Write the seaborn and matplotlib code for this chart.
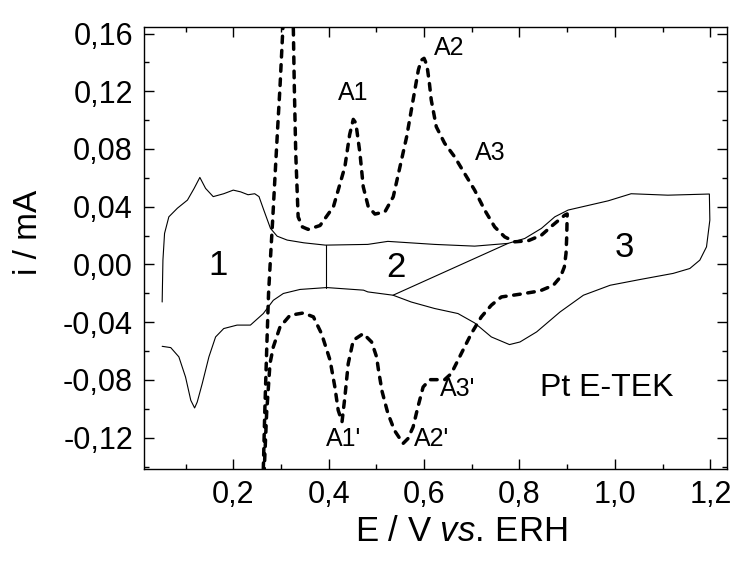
import numpy as np
import pandas as pd
import matplotlib
matplotlib.use("Agg")
import matplotlib.pyplot as plt
import seaborn as sns
from matplotlib.ticker import MultipleLocator, FuncFormatter

# ---------------- data ----------------
# solid CV (Pt E-TEK, blank), anodic then cathodic sweep
solid_v = [0.051, 0.0526, 0.056, 0.065, 0.083, 0.104, 0.118, 0.130, 0.142, 0.158,
           0.180, 0.200, 0.2155, 0.231, 0.245, 0.254, 0.264, 0.278, 0.292, 0.313,
           0.348, 0.393, 0.482, 0.524, 0.622, 0.706, 0.776, 0.811, 0.846, 0.874,
           0.902, 0.986, 1.034, 1.111, 1.198,
           1.199, 1.192, 1.178, 1.157, 1.122, 1.053, 0.990, 0.934, 0.885, 0.836,
           0.801, 0.779, 0.741, 0.706, 0.671, 0.622, 0.573, 0.535, 0.482, 0.473,
           0.396, 0.340, 0.305, 0.284, 0.263, 0.236, 0.208, 0.180, 0.163, 0.149,
           0.135, 0.1245, 0.119, 0.111, 0.100, 0.086, 0.069, 0.051]
solid_i = [-0.026, 0.003, 0.0215, 0.033, 0.039, 0.0446, 0.0527, 0.0603, 0.0527, 0.047,
           0.049, 0.0515, 0.0503, 0.0483, 0.049, 0.047, 0.0377, 0.025, 0.0196, 0.0169,
           0.015, 0.0134, 0.0139, 0.016, 0.0139, 0.0127, 0.0146, 0.018, 0.025, 0.033,
           0.0377, 0.0441, 0.049, 0.048, 0.0488,
           0.0307, 0.0122, 0.003, -0.0028, -0.0062, -0.0104, -0.0144, -0.0213, -0.0329, -0.0467,
           -0.0537, -0.0555, -0.0502, -0.0405, -0.034, -0.0305, -0.026, -0.0213, -0.019, -0.0178,
           -0.016, -0.0173, -0.0201, -0.0248, -0.034, -0.042, -0.042, -0.0444, -0.0502, -0.064,
           -0.0825, -0.0953, -0.0994, -0.0941, -0.078, -0.064, -0.0576, -0.0567]

# dashed CV (stripping), starting at the bottom left
dash_v = [0.263, 0.266, 0.270, 0.274, 0.279, 0.283, 0.289, 0.294, 0.298, 0.302, 0.305,
          0.325, 0.326, 0.328, 0.331, 0.336, 0.345, 0.357, 0.382, 0.410, 0.434,
          0.444, 0.4516, 0.457, 0.4656, 0.4725, 0.483, 0.497, 0.518, 0.5354, 0.5495, 0.5635,
          0.577, 0.588, 0.594, 0.600, 0.606, 0.611, 0.615, 0.6256, 0.643, 0.664, 0.685, 0.706,
          0.727, 0.748, 0.769, 0.790, 0.818, 0.846, 0.870, 0.895, 0.900,
          0.899, 0.8975, 0.894, 0.886, 0.871, 0.843, 0.801, 0.762, 0.741, 0.720,
          0.699, 0.678, 0.657, 0.643, 0.612, 0.598, 0.587, 0.577, 0.566, 0.556,
          0.538, 0.524, 0.512, 0.5045, 0.5005, 0.490, 0.4725, 0.4516, 0.441, 0.434, 0.428, 0.420,
          0.413, 0.403, 0.385, 0.368, 0.347, 0.319, 0.298, 0.284, 0.277, 0.270, 0.265]
dash_i = [-0.142, -0.103, -0.060, -0.020, 0.010, 0.033, 0.070, 0.100, 0.123, 0.150, 0.170,
          0.170, 0.1625, 0.123, 0.077, 0.033, 0.026, 0.0243, 0.027, 0.040, 0.0677,
          0.090, 0.1005, 0.098, 0.077, 0.0538, 0.040, 0.0349, 0.0365, 0.0469, 0.0677, 0.0885,
          0.114, 0.1347, 0.1415, 0.1428, 0.138, 0.126, 0.114, 0.0954, 0.084, 0.0746, 0.063, 0.0515,
          0.0377, 0.026, 0.0191, 0.0157, 0.0164, 0.0203, 0.0273, 0.0342, 0.035,
          0.0191, 0.0076, -0.0017, -0.0086, -0.0144, -0.0183, -0.0206, -0.0225, -0.0282, -0.0363,
          -0.0479, -0.0617, -0.0756, -0.0798, -0.0798, -0.0849, -0.0988, -0.1126, -0.1207, -0.1240,
          -0.1150, -0.103, -0.088, -0.0733, -0.0641, -0.0537, -0.0479, -0.0525, -0.0687, -0.0918, -0.109, -0.101,
          -0.0849, -0.0664, -0.0479, -0.0363, -0.0336, -0.0352, -0.0433, -0.0571, -0.0687, -0.103, -0.142]

# straight separators of regions 1-2-3
sep_v = [0.394, 0.394]
sep_i = [0.0134, -0.016]
diag_v = [0.535, 0.776]
diag_i = [-0.0213, 0.0146]

peak_labels = ["A1", "A2", "A3", "A1'", "A2'", "A3'"]
peak_v = [0.451, 0.653, 0.739, 0.432, 0.6155, 0.671]
peak_i = [0.119, 0.150, 0.0773, -0.1212, -0.121, -0.0865]

region_labels = ["1", "2", "3"]
region_v = [0.168, 0.541, 1.019]
region_i = [-0.001, -0.002, 0.012]

# ---------------- style ----------------
sns.set_style("ticks")
plt.rcParams["font.family"] = ["Liberation Sans", "DejaVu Sans"]
plt.rcParams["mathtext.fontset"] = "custom"
plt.rcParams["mathtext.rm"] = "Liberation Sans"
plt.rcParams["mathtext.it"] = "Liberation Sans:italic"
plt.rcParams["text.color"] = "black"
plt.rcParams["axes.labelcolor"] = "black"
plt.rcParams["axes.edgecolor"] = "black"
plt.rcParams["xtick.color"] = "black"
plt.rcParams["ytick.color"] = "black"

fig = plt.figure(figsize=(7.36, 5.65), dpi=100)
ax = fig.add_axes([0.1957, 0.1704, 0.7921, 0.7818])

df_solid = pd.DataFrame({"E": solid_v, "I": solid_i})
df_dash = pd.DataFrame({"E": dash_v, "I": dash_i})

sns.lineplot(data=df_solid, x="E", y="I", sort=False, estimator=None, ax=ax,
             color="black", linewidth=0.8)
sns.lineplot(data=df_dash, x="E", y="I", sort=False, estimator=None, ax=ax,
             color="black", linewidth=2.5)
ax.lines[-1].set_dashes([1.9, 2.2])
ax.lines[-1].set_dash_capstyle("round")
ax.lines[-1].set_solid_joinstyle("round")
sns.lineplot(x=sep_v, y=sep_i, sort=False, estimator=None, ax=ax, color="black", linewidth=0.8)
sns.lineplot(x=diag_v, y=diag_i, sort=False, estimator=None, ax=ax, color="black", linewidth=0.8)

for lab, xv, yv in zip(peak_labels, peak_v, peak_i):
    ax.text(xv, yv, lab, fontsize=18, ha="center", va="center")
for lab, xv, yv in zip(region_labels, region_v, region_i):
    ax.text(xv, yv, lab, fontsize=25, ha="center", va="center")
ax.text(0.983, -0.0854, "Pt E-TEK", fontsize=23, ha="center", va="center")

ax.set_xlim(0.013, 1.235)
ax.set_ylim(-0.1415, 0.1645)

ax.xaxis.set_major_locator(MultipleLocator(0.2))
ax.xaxis.set_minor_locator(MultipleLocator(0.1))
ax.yaxis.set_major_locator(MultipleLocator(0.04))
ax.yaxis.set_minor_locator(MultipleLocator(0.02))
ax.xaxis.set_major_formatter(FuncFormatter(lambda v, p: f"{v:.1f}".replace(".", ",")))
ax.yaxis.set_major_formatter(FuncFormatter(
    lambda v, p: ("0,00" if abs(v) < 1e-9 else f"{v:.2f}".replace(".", ","))))

ax.tick_params(which="both", direction="in", top=True, right=True, width=1.0,
               labelsize=22, colors="black")
ax.tick_params(which="major", length=7, pad=8)
ax.tick_params(which="minor", length=3.5)
for s in ax.spines.values():
    s.set_linewidth(1.0)
    s.set_color("black")

ax.set_xlabel(r"E / V $\mathit{vs.}\,$ERH", fontsize=25)
ax.set_ylabel("i / mA", fontsize=24)
ax.xaxis.set_label_coords(0.544, -0.104)
ax.yaxis.set_label_coords(-0.172, 0.536)

fig.savefig("out.png", dpi=100)
